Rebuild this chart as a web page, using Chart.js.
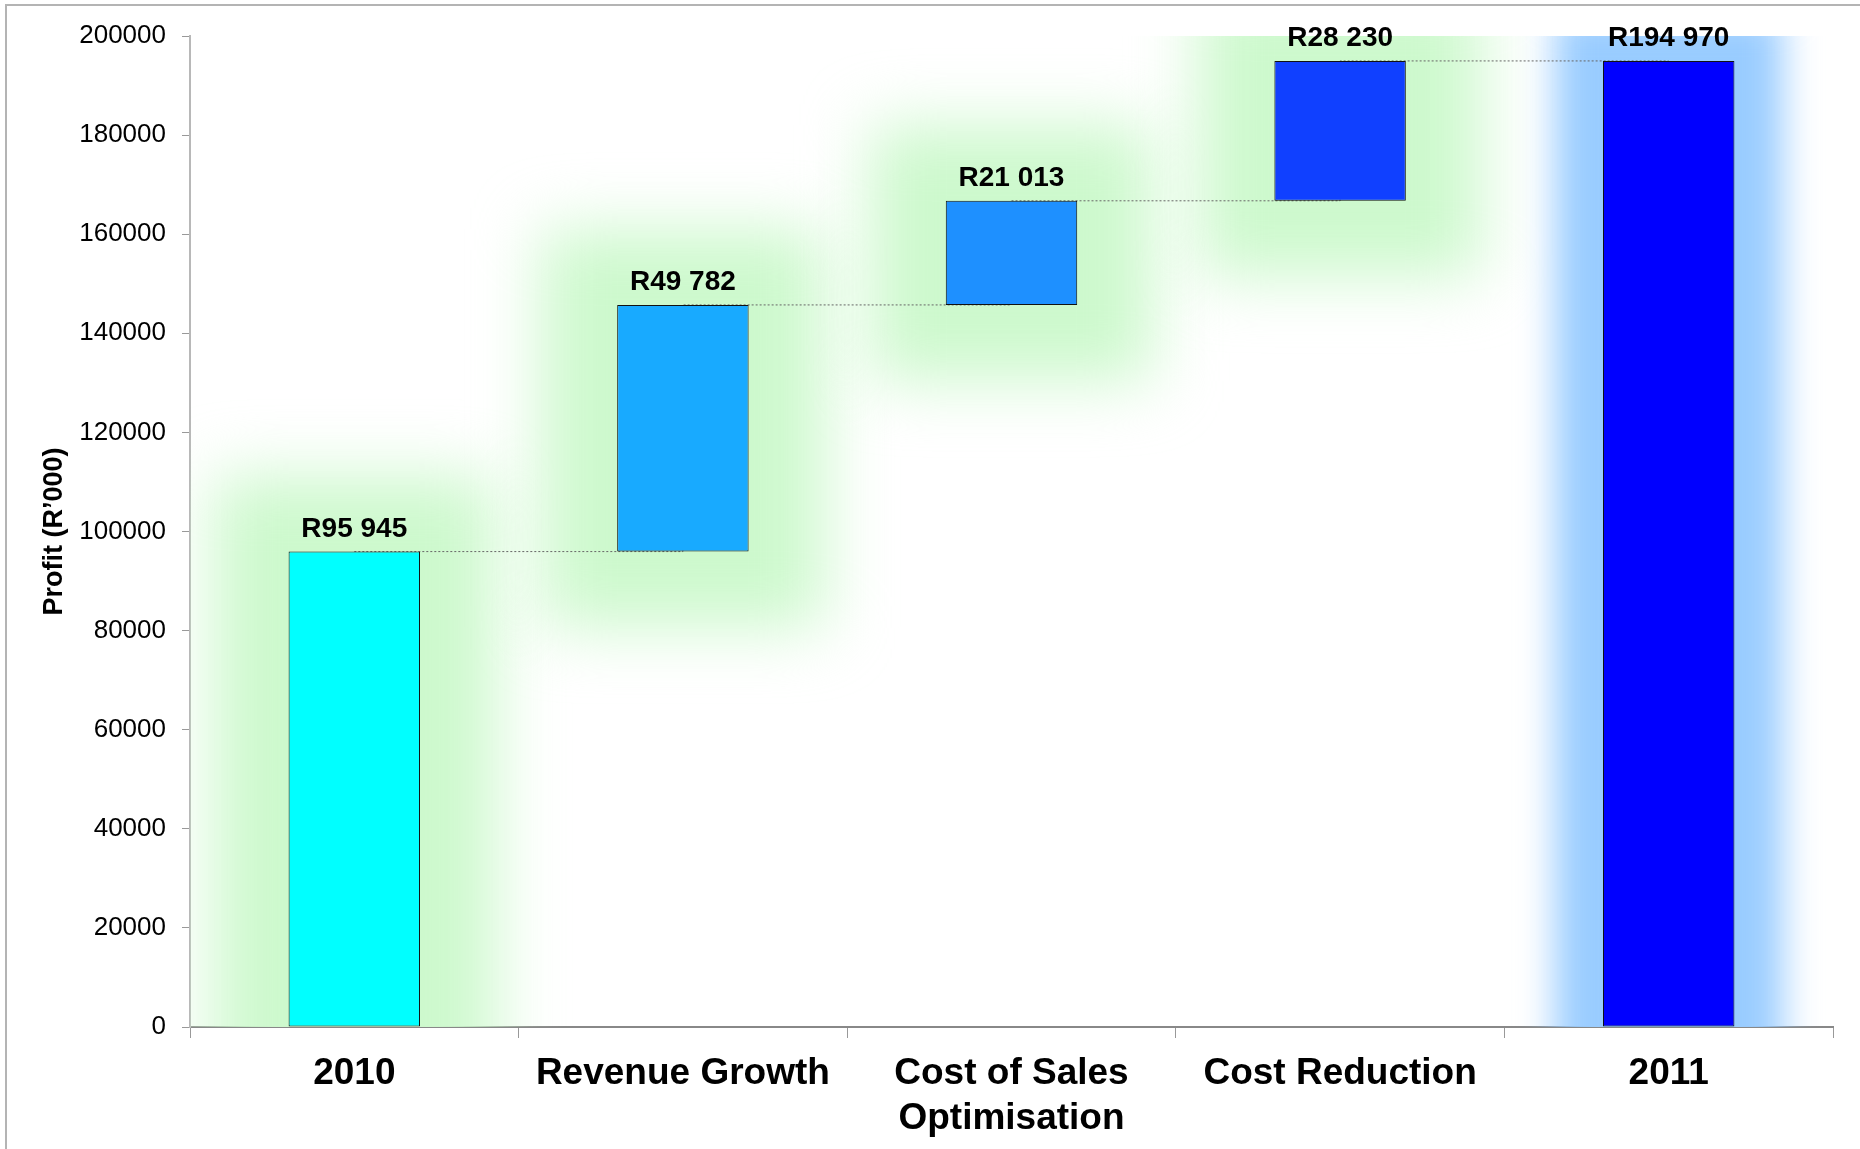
<!DOCTYPE html>
<html>
<head>
<meta charset="utf-8">
<script src="https://cdn.jsdelivr.net/npm/chart.js@4/dist/chart.umd.min.js"></script>
<style>
  body { margin: 0; background: #fff; }
  #wrap { position: relative; width: 1860px; height: 1149px; overflow: hidden; }
  #frame { position: absolute; left: 5px; top: 4px; width: 2000px; height: 2000px;
           border-top: 2px solid #b4b4b4; border-left: 2px solid #b4b4b4; }
  canvas { position: absolute; left: 0; top: 0; }
</style>
</head>
<body>
<div id="wrap">
  <div id="frame"></div>
  <canvas id="chart" width="1860" height="1149"></canvas>
</div>
<script>
// Profit bridge 2010 -> 2011 (R'000)
const categories = ['2010', 'Revenue Growth', ['Cost of Sales', 'Optimisation'], 'Cost Reduction', '2011'];
const amounts = [95945, 49782, 21013, 28230, 194970];
const yMax = 200000;
const yStep = 20000;

// first bar and last bar sit on zero, the steps in between float on the running total
const runningTotals = [];
let total = 0;
for (let i = 0; i < amounts.length - 1; i++) {
  total += amounts[i];
  runningTotals.push(total);
}
runningTotals.push(amounts[amounts.length - 1]);

const bars = amounts.map((v, i) => {
  if (i === 0 || i === amounts.length - 1) return [0, v];
  return [runningTotals[i] - v, runningTotals[i]];
});

function fmtRand(v) {
  return 'R' + v.toLocaleString('en-US').replace(/,/g, ' ');
}

const FONT = "'Liberation Sans', Arial, sans-serif";

// soft halo behind each bar
const glows = [
  { color: '#cdf9cd', spread: 76, blur: 32 },
  { color: '#cdf9cd', spread: 76, blur: 32 },
  { color: '#cdf9cd', spread: 76, blur: 32 },
  { color: '#cdf9cd', spread: 76, blur: 32 },
  { color: '#99ccff', spread: 48, blur: 18 }
];

const glowPlugin = {
  id: 'glow',
  beforeDatasetsDraw(chart) {
    const ctx = chart.ctx;
    const area = chart.chartArea;
    const meta = chart.getDatasetMeta(0);
    ctx.save();
    ctx.beginPath();
    ctx.rect(area.left, area.top, area.right - area.left, area.bottom - area.top);
    ctx.clip();
    meta.data.forEach((bar, i) => {
      const g = glows[i];
      const top = Math.min(bar.y, bar.base);
      const bottom = Math.max(bar.y, bar.base);
      ctx.filter = 'blur(' + g.blur + 'px)';
      ctx.fillStyle = g.color;
      ctx.fillRect(bar.x - bar.width / 2 - g.spread, top - g.spread,
                   bar.width + g.spread * 2, bottom - top + g.spread * 2);
    });
    ctx.restore();
  }
};

const valueLabels = {
  id: 'valueLabels',
  afterDatasetsDraw(chart) {
    const ctx = chart.ctx;
    const meta = chart.getDatasetMeta(0);
    ctx.save();
    ctx.font = 'bold 28px ' + FONT;
    ctx.fillStyle = '#000';
    ctx.textAlign = 'center';
    ctx.textBaseline = 'alphabetic';
    meta.data.forEach((bar, i) => {
      ctx.fillText(fmtRand(amounts[i]), bar.x, Math.min(bar.y, bar.base) - 15);
    });
    ctx.restore();
  }
};

const ctx = document.getElementById('chart').getContext('2d');
new Chart(ctx, {
  data: {
    labels: categories,
    datasets: [
      {
        type: 'bar',
        data: bars,
        backgroundColor: ['#00ffff', '#18aaff', '#1e90ff', '#1040ff', '#0000ff'],
        borderColor: '#111',
        borderWidth: 1,
        borderSkipped: false,
        barPercentage: 0.4,
        categoryPercentage: 1,
        order: 1
      },
      {
        // dotted connectors between the bar tops
        type: 'line',
        data: runningTotals,
        stepped: 'before',
        borderColor: '#666',
        borderWidth: 1,
        borderDash: [2, 2],
        pointRadius: 0,
        fill: false,
        order: 2
      }
    ]
  },
  options: {
    responsive: false,
    animation: false,
    layout: { padding: { top: 36, right: 27, bottom: 0, left: 0 } },
    plugins: {
      legend: { display: false },
      tooltip: { enabled: false }
    },
    scales: {
      x: {
        offset: true,
        afterFit(scale) { scale.height = 122; },
        grid: { drawOnChartArea: false, offset: true, tickLength: 11, color: '#999' },
        border: { color: '#888', width: 2 },
        ticks: {
          color: '#000',
          padding: 14,
          maxRotation: 0,
          autoSkip: false,
          font: { family: FONT, size: 37, weight: 'bold', lineHeight: 1.2 }
        }
      },
      y: {
        min: 0,
        max: yMax,
        afterFit(scale) { scale.width = 190; },
        grid: { drawOnChartArea: false, tickLength: 8, color: '#999' },
        border: { color: '#b8b8b8', width: 2 },
        ticks: {
          stepSize: yStep,
          color: '#000',
          padding: 16,
          font: { family: FONT, size: 26 },
          callback: v => String(v)
        },
        title: {
          display: true,
          text: 'Profit (R’000)',
          color: '#000',
          font: { family: FONT, size: 27, weight: 'bold' },
          padding: { top: 38, bottom: 0 }
        }
      }
    }
  },
  plugins: [glowPlugin, valueLabels]
});
</script>
</body>
</html>
